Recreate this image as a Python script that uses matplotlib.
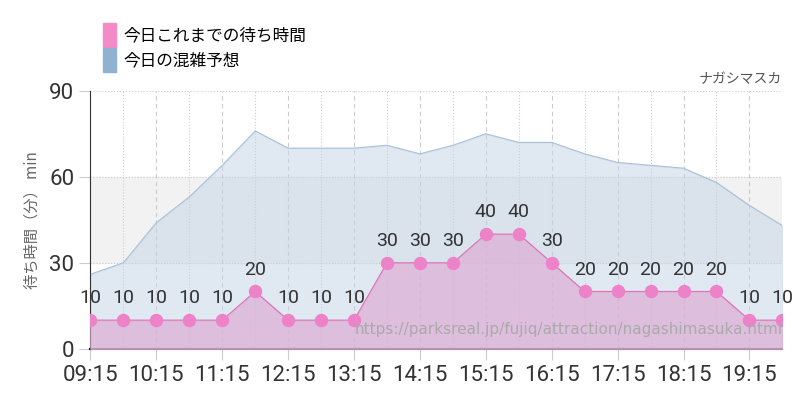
import matplotlib.pyplot as plt
from matplotlib import font_manager
from matplotlib.patches import Patch

names = {f.name for f in font_manager.fontManager.ttflist}
num_font = "Liberation Sans Narrow" if "Liberation Sans Narrow" in names else "Roboto"
jp_font = "Noto Sans CJK JP"

times = ["09:15", "09:45", "10:15", "10:45", "11:15", "11:45", "12:15", "12:45",
         "13:15", "13:45", "14:15", "14:45", "15:15", "15:45", "16:15", "16:45",
         "17:15", "17:45", "18:15", "18:45", "19:15", "19:45"]
wait = [10, 10, 10, 10, 10, 20, 10, 10, 10, 30, 30, 30, 40, 40, 30, 20, 20, 20, 20, 20, 10, 10]
forecast = [26, 30, 44, 53, 64, 76, 70, 70, 70, 71, 68, 71, 75, 72, 72, 68, 65, 64, 63, 58, 50, 43]

x = list(range(len(times)))

fig = plt.figure(figsize=(8, 4), dpi=100)
ax = fig.add_axes([0.113, 0.128, 0.865, 0.645])

ax.axhspan(30, 60, color="#f2f2f2", zorder=0)
for i in x:
    if i % 2 == 0:
        ax.axvline(i, color="#cccccc", ls=(0, (4, 3)), lw=0.8, zorder=1)
    else:
        ax.axvline(i, color="#cccccc", ls=":", lw=0.8, zorder=1)
for yv in [30, 60, 90]:
    ax.axhline(yv, color="#cccccc", ls=":", lw=0.8, zorder=1)

ax.fill_between(x, forecast, color="#c3d5e6", alpha=0.5, zorder=2)
ax.plot(x, forecast, color="#a9c2d8", lw=0.8, zorder=2)
ax.fill_between(x, wait, color="#dcb0d6", alpha=0.75, zorder=3)
ax.plot(x, wait, color="#e070b8", lw=0.8, zorder=4)
ax.scatter(x, wait, s=75, color="#ee82c8", zorder=5)
for i, v in zip(x, wait):
    ax.text(i, v + 4.5, str(v), ha="center", va="bottom", fontsize=14,
            family=num_font, color="#333333", zorder=6)

ax.text(21, 4, "https://parksreal.jp/fujiq/attraction/nagashimasuka.html",
        ha="right", va="bottom", fontsize=11, color="#aaaaaa", zorder=6)

ax.set_xlim(0, 21)
ax.set_ylim(0, 90)
ax.set_yticks([0, 30, 60, 90])
ax.set_xticks(x[::2])
ax.set_xticklabels(times[::2])
ax.tick_params(axis="both", labelsize=16, colors="#333333", length=8, width=0.8)
ax.tick_params(axis="both", color="#cccccc")
for lab in ax.get_xticklabels() + ax.get_yticklabels():
    lab.set_family(num_font)
for s in ["top", "right"]:
    ax.spines[s].set_visible(False)
ax.spines["left"].set_color("#333333")
ax.spines["bottom"].set_color("#111111")
ax.spines["bottom"].set_linewidth(1.5)
ax.set_ylabel("待ち時間（分） min", family=jp_font, fontsize=11, color="#666666", labelpad=6)

ax.text(1.0, 1.02, "ナガシマスカ", transform=ax.transAxes, ha="right", va="bottom",
        family=jp_font, fontsize=10, color="#555555")

handles = [Patch(color="#f48ac8"), Patch(color="#8fb2d0")]
fig.legend(handles, ["今日これまでの待ち時間", "今日の混雑予想"], loc="upper left",
           bbox_to_anchor=(0.11, 0.98), frameon=False, prop={"family": jp_font, "size": 12},
           handlelength=0.8, handleheight=1.8, handletextpad=0.4, labelspacing=0.1)

fig.savefig("out.png")
